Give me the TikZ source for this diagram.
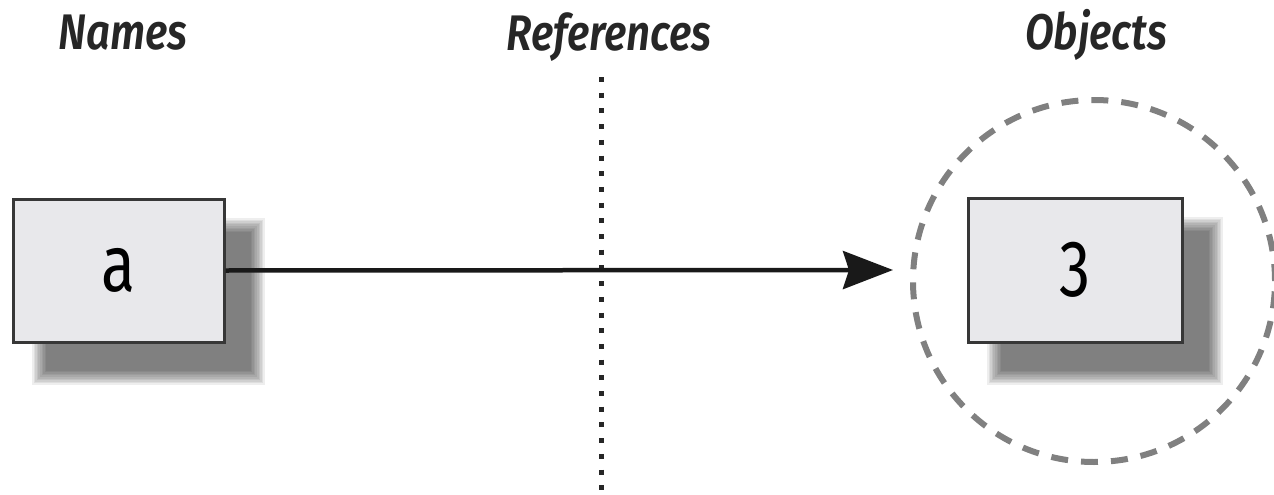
\documentclass[tikz,border=0pt]{standalone}
\usepackage{fontspec}
\setmainfont{Fira Sans}
\newfontfamily\titlefont[FakeStretch=0.84,
  BoldFont={Fira Sans SemiBold}, BoldItalicFont={Fira Sans SemiBold Italic}]{Fira Sans}
\newfontfamily\labelfont[FakeStretch=0.78]{Fira Sans}
\usetikzlibrary{arrows.meta}
\definecolor{boxfill}{RGB}{232,232,235}
\definecolor{boxline}{RGB}{55,55,55}
\definecolor{ringcol}{RGB}{128,128,128}
\definecolor{arrowcol}{RGB}{25,25,25}
\tikzset{
  valbox/.style={draw=boxline, line width=3pt, fill=boxfill, rectangle,
    inner sep=0pt, font=\labelfont\fontsize{80}{80}\selectfont},
  coltitle/.style={font=\titlefont\bfseries\itshape\fontsize{50}{50}\selectfont,
    text=black!85, inner sep=0pt, anchor=base},
  refline/.style={line width=5pt, dash pattern=on 5pt off 10.7pt, black!85},
  ring/.style={draw=ringcol, line width=6pt, dash pattern=on 17pt off 13pt},
  pointer/.style={line width=4.5pt, arrowcol, -{Stealth[length=50pt, width=38pt, inset=6pt]}}
}
\newcommand{\softshade}[4]{%
  \foreach \i in {0,...,9}{%
    \fill[black, opacity=0.065] ({#1+1.6*\i},{#2+1.6*\i}) rectangle ({#3-1.6*\i},{#4-1.6*\i});
  }}
\begin{document}
\begin{tikzpicture}[x=1pt, y=-1pt]
  \useasboundingbox (0,0) rectangle (1274,495);
  % titles
  \node[coltitle] (tnames) at (123,49) {Names};
  \node[coltitle] (trefs) at (609,51) {References};
  \node[coltitle] (tobjs) at (1096,50) {Objects};
  % dotted separator
  \coordinate (dtop) at (601,77);
  \coordinate (dbot) at (601,495);
  \draw[refline] (dtop) -- (dbot);
  % shadows
  \softshade{32}{218}{265}{385}
  \softshade{987}{217}{1223}{385}
  % dashed ring
  \node[ring, circle, minimum size=362pt, inner sep=0pt] (objring) at (1094,281) {};
  % boxes
  \node[valbox, minimum width=211pt, minimum height=143pt] (a) at (118.5,270.5) {a};
  \node[valbox, minimum width=214pt, minimum height=144pt] (three) at (1075,270) {3};
  % pointer
  \coordinate (tip) at (893,270);
  \draw[pointer] (a.east) -- (tip);
\end{tikzpicture}
\end{document}
